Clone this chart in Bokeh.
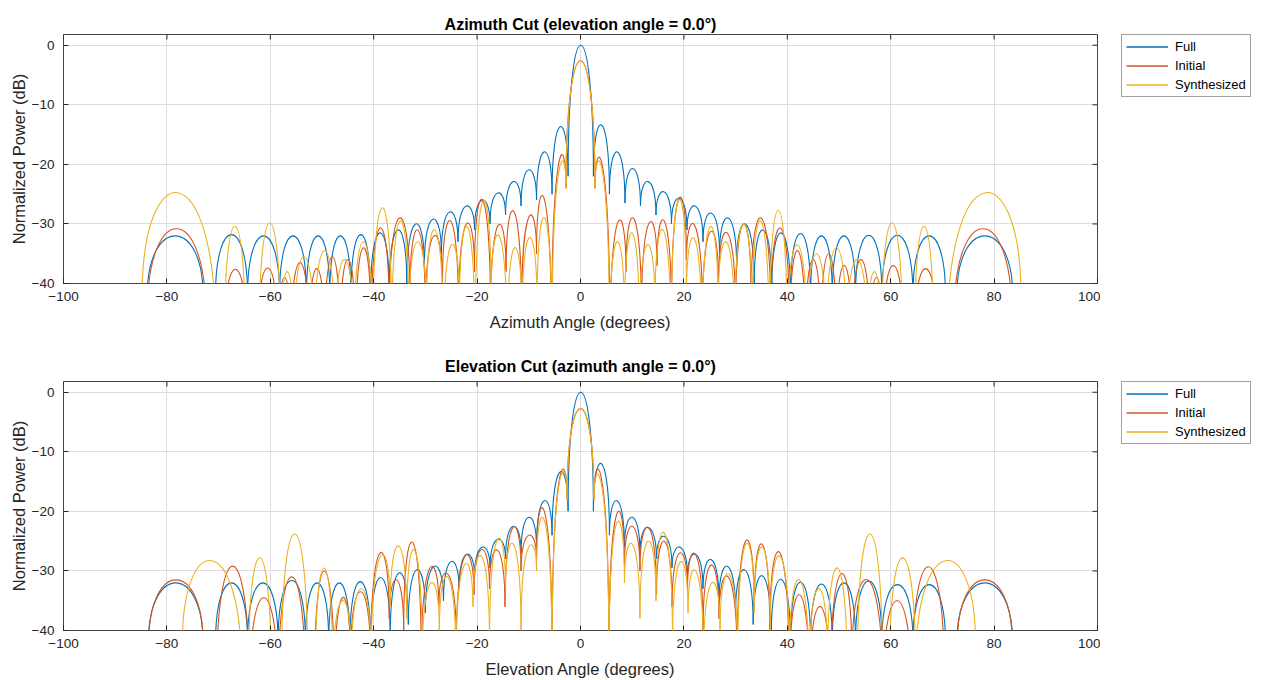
import numpy as np
from bokeh.plotting import figure
from bokeh.models import Legend, LegendItem, FixedTicker, Range1d, ColumnDataSource
from bokeh.layouts import column, row
from bokeh.embed import file_html
from bokeh.resources import INLINE

# ---------------- data ----------------
series_names = ["Full", "Initial", "Synthesized"]
x_ticks = [-100, -80, -60, -40, -20, 0, 20, 40, 60, 80, 100]
y_ticks = [-40, -30, -20, -10, 0]

# Each curve: lobe boundaries (dip angle, dip level) and the lobe peak levels (dB)
# ---- Azimuth cut ----
az_full_dip_x = [-83.8, -73.0, -70.6, -64.4, -58.2, -53.0, -48.5, -44.4, -40.6, -37.0, -33.6,
                 -30.2, -26.9, -23.7, -20.5, -17.5, -14.5, -11.5, -8.5, -5.5, -2.4, 2.5, 5.6,
                 8.6, 11.6, 14.6, 17.6, 20.6, 23.7, 26.9, 30.2, 33.6, 37.0, 40.6, 44.5, 48.7,
                 53.2, 58.3, 64.3, 70.6, 72.8, 83.6]
az_full_dip_db = [-42, -42, -42, -42, -42, -42, -42, -42, -42, -41, -40, -37, -35, -33, -31,
                  -30, -28.5, -27, -26, -25, -22, -22, -25, -26.5, -27, -28.5, -30, -31, -33,
                  -35, -37, -40, -41, -42, -42, -42, -42, -42, -42, -42, -42, -42]
az_full_peak_db = [-32.0, -48, -31.8, -32.0, -32.0, -32.0, -32.0, -31.8, -31.5, -31.0, -30.0,
                   -29.2, -28.0, -27.0, -26.0, -24.8, -22.9, -20.9, -17.9, -13.7, 0.0, -13.4,
                   -17.9, -20.7, -22.9, -24.6, -25.7, -27.0, -28.2, -29.0, -30.0, -31.0, -31.5,
                   -31.6, -32.0, -32.0, -31.9, -31.9, -32.0, -48, -32.0]

az_init_dip_x = [-83.8, -72.5, -69.0, -64.5, -62.5, -58.5, -56.0, -52.5, -49.5, -46.5, -43.5,
                 -40.5, -37.0, -33.0, -30.0, -26.7, -23.6, -20.5, -17.4, -14.4, -11.4, -8.5,
                 -5.6, -2.8, 2.8, 5.7, 8.8, 11.8, 14.8, 17.6, 20.5, 23.6, 26.7, 30.0, 33.0,
                 36.8, 40.5, 43.5, 46.5, 49.5, 52.5, 56.0, 58.5, 62.5, 64.5, 69.0, 72.3, 83.4]
az_init_dip_db = [-45, -45, -50, -50, -50, -50, -50, -50, -50, -50, -50, -48, -45, -42, -45,
                  -40, -45, -38, -45, -38, -45, -35, -50, -24, -24, -50, -38, -45, -37, -45,
                  -36, -45, -40, -45, -42, -45, -48, -50, -50, -50, -50, -50, -50, -50, -50,
                  -50, -45, -45]
az_init_peak_db = [-30.8, -45, -37.6, -46, -37.4, -39.0, -36.5, -37.5, -35.5, -36.0, -34.0,
                   -30.7, -29.0, -31.0, -32.0, -29.5, -30.0, -26.0, -30.2, -27.9, -28.8, -25.7,
                   -19.8, -2.6, -20.3, -29.7, -29.1, -29.8, -29.5, -25.7, -30.2, -31.3, -31.5,
                   -30.0, -29.0, -30.7, -34.5, -36.0, -35.0, -37.0, -36.0, -39.0, -37.0, -46,
                   -37.5, -45, -30.8]

az_syn_dip_x = [-84.8, -70.6, -68.9, -64.8, -62.2, -58.0, -55.5, -51.5, -47.5, -43.8, -40.2,
                -36.5, -33.2, -29.8, -26.5, -23.4, -20.4, -17.3, -14.2, -11.3, -8.4, -5.5,
                -2.8, 2.8, 5.6, 8.5, 11.4, 14.4, 17.5, 20.5, 23.5, 26.6, 29.8, 33.2, 36.5,
                40.0, 43.8, 47.5, 51.5, 55.5, 58.2, 62.3, 64.6, 68.3, 71.0, 85.2]
az_syn_dip_db = [-42, -48, -50, -50, -50, -50, -50, -50, -50, -50, -50, -48, -46, -45, -50,
                 -44, -50, -42, -50, -46, -44, -50, -24, -24, -50, -46, -48, -44, -50, -42,
                 -50, -44, -48, -46, -50, -50, -50, -50, -50, -50, -50, -50, -50, -50, -48,
                 -42]
az_syn_peak_db = [-24.8, -46, -30.4, -45, -29.8, -38.0, -35.5, -34.5, -36.0, -33.0, -27.3,
                  -29.5, -33.0, -31.0, -33.5, -30.5, -26.2, -32.0, -34.0, -32.3, -29.0, -21.0,
                  -2.6, -21.0, -33.0, -31.5, -33.5, -31.0, -26.0, -32.5, -30.5, -33.0, -30.0,
                  -29.5, -27.7, -33.5, -35.0, -34.0, -36.0, -38.0, -29.8, -45, -30.4, -46,
                  -24.8]

# ---- Elevation cut ----
el_full_dip_x = [-83.6, -73.0, -70.6, -64.4, -58.5, -53.2, -48.7, -44.6, -40.6, -36.8, -33.3,
                 -30.0, -26.5, -23.5, -20.5, -17.5, -14.5, -11.5, -8.5, -5.5, -2.4, 2.5, 5.6,
                 8.5, 11.5, 14.7, 17.7, 20.7, 23.7, 26.8, 30.0, 33.4, 36.9, 40.6, 44.5, 48.7,
                 53.2, 58.3, 64.3, 70.6, 72.8, 83.6]
el_full_dip_db = [-42, -42, -42, -42, -42, -42, -42, -42, -42, -41, -39, -37, -35, -33, -31,
                  -29.5, -28, -27, -26, -24, -20, -20, -24, -26, -27, -28, -29.5, -31, -33,
                  -35, -37, -39, -41, -42, -42, -42, -42, -42, -42, -42, -42, -42]
el_full_peak_db = [-32.0, -48, -32.0, -32.0, -31.6, -32.0, -32.0, -31.8, -31.1, -30.3, -29.8,
                   -29.2, -28.4, -27.2, -26.0, -24.7, -22.5, -21.0, -18.2, -13.4, 0.0, -12.0,
                   -18.2, -21.0, -22.7, -24.2, -26.0, -27.2, -28.1, -29.2, -29.8, -30.8, -31.4,
                   -31.9, -32.2, -32.0, -31.7, -32.3, -32.3, -48, -32.0]

el_init_dip_x = [-83.5, -73.0, -70.4, -64.0, -58.5, -53.2, -51.5, -47.6, -44.5, -40.6, -37.0,
                 -34.2, -30.8, -27.4, -24.0, -20.6, -17.6, -14.6, -11.5, -8.5, -5.5, -2.6,
                 2.6, 5.5, 8.5, 11.5, 14.7, 17.7, 20.7, 23.7, 26.8, 30.3, 33.6, 36.6, 40.4,
                 44.3, 48.3, 52.5, 58.5, 64.0, 70.4, 72.9, 83.5]
el_init_dip_db = [-42, -42, -48, -50, -50, -50, -50, -50, -45, -45, -38, -40, -45, -36, -42,
                  -34, -33, -36, -30, -28, -45, -18, -18, -45, -29, -30, -34, -36, -33, -40,
                  -38, -45, -36, -40, -48, -50, -50, -45, -50, -50, -48, -42, -42]
el_init_peak_db = [-31.5, -46, -29.2, -34.5, -31.0, -45, -30.0, -34.5, -33.5, -27.0, -31.5,
                   -25.2, -29.5, -30.5, -27.5, -26.4, -26.5, -22.7, -24.0, -20.0, -14.5, -2.75,
                   -14.5, -20.5, -22.5, -22.7, -25.0, -27.0, -27.2, -29.0, -31.0, -25.0, -25.5,
                   -26.9, -34.0, -36.0, -30.5, -31.5, -35.0, -29.3, -46, -31.5]

el_syn_dip_x = [-77.0, -65.6, -64.2, -59.8, -57.8, -52.8, -51.3, -47.9, -44.3, -40.5, -36.8,
                -33.6, -30.6, -27.3, -24.1, -20.8, -17.6, -14.5, -11.5, -8.5, -5.5, -2.6, 2.6,
                5.5, 8.5, 11.5, 14.6, 17.8, 20.8, 23.8, 27.0, 30.4, 33.6, 36.7, 40.4, 44.2,
                47.8, 51.6, 53.6, 58.4, 59.8, 64.8, 76.4]
el_syn_dip_db = [-42, -46, -46, -48, -45, -45, -48, -48, -45, -45, -36, -38, -45, -40, -45,
                 -36, -42, -33, -40, -30, -45, -18, -18, -45, -32, -38, -35, -42, -37, -45,
                 -40, -45, -37, -40, -45, -48, -45, -48, -45, -46, -46, -46, -42]
el_syn_peak_db = [-28.3, -46, -27.8, -45, -23.8, -45, -29.5, -35.0, -33.0, -27.5, -25.8,
                  -26.5, -32.0, -31.0, -29.0, -27.5, -24.7, -25.5, -26.0, -21.5, -15.0, -2.75,
                  -15.5, -22.0, -25.5, -25.0, -23.6, -28.5, -30.0, -32.0, -30.5, -25.5, -26.0,
                  -27.5, -31.5, -33.0, -29.5, -45, -23.8, -46, -27.8, -28.3]

# ---------------- styling ----------------
FONT = "Liberation Sans"
COLORS = ["#0072BD", "#D95319", "#EDB120"]
AX = "#262626"
X_MIN, X_MAX, Y_MIN, Y_MAX = -100, 100, -40, 1.8


def lobe_source(dip_x, dip_db, peak_db):
    x = np.asarray(dip_x, float)
    d = np.asarray(dip_db, float)
    pk = np.asarray(peak_db, float)
    x0, x1, y0, y1 = x[:-1], x[1:], d[:-1], d[1:]
    # cubic Bezier whose apex (t = 0.5) sits on the read peak level
    c = (pk - 0.125 * (y0 + y1)) / 0.75
    return ColumnDataSource(dict(x0=x0, y0=y0, x1=x1, y1=y1,
                                 cx0=x0, cy0=c, cx1=x1, cy1=c))


def panel(title, xlabel, curves, top, bottom, title_gap):
    p = figure(width=1100, height=340, x_range=Range1d(X_MIN, X_MAX),
               y_range=Range1d(Y_MIN, Y_MAX), output_backend="svg", toolbar_location=None,
               min_border_left=63, min_border_right=3, min_border_top=top,
               min_border_bottom=bottom, background_fill_color="white",
               border_fill_color="white")
    p.title.text = title
    p.title.align = "center"
    p.title.text_font = FONT
    p.title.text_font_size = "16px"
    p.title.text_font_style = "bold"
    p.title.text_color = "#000000"
    p.title.standoff = title_gap

    p.xaxis.ticker = FixedTicker(ticks=x_ticks)
    p.yaxis.ticker = FixedTicker(ticks=y_ticks)
    p.xaxis.axis_label = xlabel
    p.yaxis.axis_label = "Normalized Power (dB)"
    for ax in (p.xaxis, p.yaxis):
        ax.axis_label_text_font = FONT
        ax.axis_label_text_font_size = "16.5px"
        ax.axis_label_text_font_style = "normal"
        ax.axis_label_text_color = AX
        ax.major_label_text_font = FONT
        ax.major_label_text_font_size = "13.5px"
        ax.major_label_text_color = AX
        ax.axis_line_color = None
        ax.major_tick_in = 5
        ax.major_tick_out = 0
        ax.major_tick_line_color = AX
        ax.minor_tick_line_color = None
    p.xaxis.major_label_standoff = 8
    p.yaxis.major_label_standoff = 9
    p.xaxis.axis_label_standoff = 9
    p.yaxis.axis_label_standoff = 1

    # mirrored tick marks on the top and right edges of the box
    p.scatter(x=x_ticks, y=[Y_MAX] * len(x_ticks), marker="dash", angle=np.pi / 2,
              size=10, line_color=AX, line_width=1)
    p.scatter(x=[X_MAX] * len(y_ticks), y=y_ticks, marker="dash",
              size=10, line_color=AX, line_width=1)

    p.grid.grid_line_color = "#dedede"
    p.grid.grid_line_width = 1
    p.outline_line_color = "#444444"
    p.outline_line_width = 1

    for color, (dx, dd, pk) in zip(COLORS, curves):
        src = lobe_source(dx, dd, pk)
        p.bezier(x0="x0", y0="y0", x1="x1", y1="y1", cx0="cx0", cy0="cy0",
                 cx1="cx1", cy1="cy1", source=src, line_color=color, line_width=1.1)
    return p


def legend_fig(top):
    q = figure(width=161, height=340, x_range=Range1d(0, 1), y_range=Range1d(0, 1),
               x_axis_type=None, y_axis_type=None, output_backend="svg",
               toolbar_location=None, min_border_left=21, min_border_top=top,
               min_border_right=0, min_border_bottom=0, outline_line_color=None,
               background_fill_color="white", border_fill_color="white")
    q.grid.visible = False
    items = []
    for name, color in zip(series_names, COLORS):
        r = q.line(x=[5, 6], y=[5, 6], line_color=color, line_width=1.5)
        items.append(LegendItem(label=name, renderers=[r]))
    leg = Legend(items=items, location="top_left", label_text_font=FONT,
                 label_text_font_size="13px", label_text_color="#000000",
                 glyph_width=42, glyph_height=15, label_height=15, spacing=4,
                 padding=4, margin=0, border_line_color="#444444",
                 background_fill_color="white", label_standoff=7)
    q.add_layout(leg, "center")
    return q


p1 = panel("Azimuth Cut (elevation angle = 0.0°)", "Azimuth Angle (degrees)",
           [(az_full_dip_x, az_full_dip_db, az_full_peak_db),
            (az_init_dip_x, az_init_dip_db, az_init_peak_db),
            (az_syn_dip_x, az_syn_dip_db, az_syn_peak_db)], 32, 57, 4)
p2 = panel("Elevation Cut (azimuth angle = 0.0°)", "Elevation Angle (degrees)",
           [(el_full_dip_x, el_full_dip_db, el_full_peak_db),
            (el_init_dip_x, el_init_dip_db, el_init_peak_db),
            (el_syn_dip_x, el_syn_dip_db, el_syn_peak_db)], 41, 50, 13)

layout = column(row(p1, legend_fig(34), spacing=0),
                row(p2, legend_fig(40), spacing=0), spacing=0)
open("out.html", "w").write(file_html(layout, INLINE))
